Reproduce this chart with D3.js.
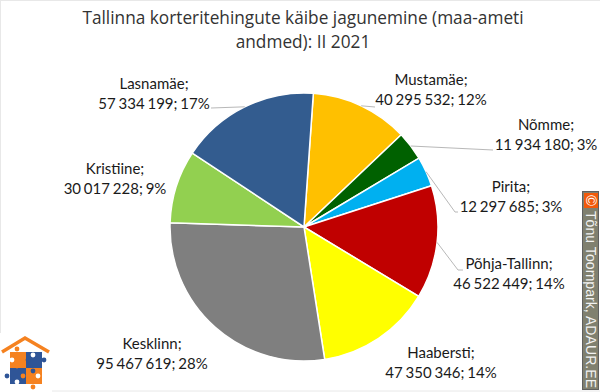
<!DOCTYPE html>
<html>
<head>
<meta charset="utf-8">
<script src="https://cdn.jsdelivr.net/npm/d3@7"></script>
<style>
  html, body { margin: 0; padding: 0; background: #fff; }
  svg { display: block; font-family: Lato, "Open Sans", sans-serif; }
</style>
</head>
<body>
<div id="chart"></div>
<script>
const areas = ["Mustamäe", "Nõmme", "Pirita", "Põhja-Tallinn", "Haabersti", "Kesklinn", "Kristiine", "Lasnamäe"];
const turnover = [40295532, 11934180, 12297685, 46522449, 47350346, 95467619, 30017228, 57334199];
const shares = ["12%", "3%", "3%", "14%", "14%", "28%", "9%", "17%"];
const colors = ["#ffc000", "#006100", "#00b0f0", "#c00000", "#ffff00", "#7f7f7f", "#92d050", "#335c8f"];
const titleLines = ["Tallinna korteritehingute käibe jagunemine (maa-ameti", "andmed): II 2021"];

// label centres, placed by eye
const labelX = [431, 546, 511, 509, 441, 152, 115, 154];
const labelY = [85, 130, 192, 269, 358, 349, 174, 89];
// which labels get a leader line, and the bends it goes through
const leaderEnds = [
  [[375, 107]],
  [[493, 150]],
  [[455, 212], [458, 212]],
  [[458, 270], [463, 270]],
  null, null, null,
  [[211, 108]]
];

const width = 600, height = 392;
const cx = 304, cy = 227, radius = 134;
const startAngle = 4 * Math.PI / 180;

const fmt = d3.formatLocale({ thousands: " ", grouping: [3], decimal: ",", currency: ["", ""] }).format(",d");

const svg = d3.select("#chart").append("svg")
  .attr("width", width)
  .attr("height", height);

// faint edge of the original image
svg.append("rect")
  .attr("x", 0.5).attr("y", 0.5)
  .attr("width", width).attr("height", height - 1.5)
  .attr("fill", "none")
  .attr("stroke", "#e8e8e8");

svg.append("g")
  .attr("text-anchor", "middle")
  .attr("font-family", "'Open Sans', sans-serif")
  .attr("font-size", 17.25)
  .attr("fill", "#333")
  .selectAll("text")
  .data(titleLines)
  .join("text")
  .attr("x", 303)
  .attr("y", (d, i) => 24 + i * 24)
  .text(d => d);

const pie = d3.pie().sort(null).startAngle(startAngle).endAngle(startAngle + 2 * Math.PI);
const arcs = pie(turnover);
const arc = d3.arc().innerRadius(0).outerRadius(radius);

svg.append("g")
  .attr("transform", `translate(${cx},${cy})`)
  .selectAll("path")
  .data(arcs)
  .join("path")
  .attr("d", arc)
  .attr("fill", (d, i) => colors[i])
  .attr("stroke", "#fff")
  .attr("stroke-width", 1.5);

// leader lines start on the rim, in the middle of the slice
svg.append("g")
  .attr("stroke", "#b8b8b8")
  .attr("fill", "none")
  .selectAll("path")
  .data(arcs.filter((d, i) => leaderEnds[i]))
  .join("path")
  .attr("d", d => {
    const mid = (d.startAngle + d.endAngle) / 2;
    const x = cx + radius * Math.sin(mid), y = cy - radius * Math.cos(mid);
    return d3.line()([[x, y], ...leaderEnds[d.index]]);
  });

const labels = svg.append("g")
  .attr("text-anchor", "middle")
  .attr("font-size", 15)
  .attr("word-spacing", -1)
  .attr("fill", "#1a1a1a")
  .selectAll("g")
  .data(areas)
  .join("g")
  .attr("transform", (d, i) => `translate(${labelX[i]},${labelY[i]})`);
labels.append("text").text(d => d + ";");
labels.append("text").attr("y", 20).text((d, i) => `${fmt(turnover[i])}; ${shares[i]}`);

// copyright badge on the right edge
const badge = svg.append("g");
badge.append("rect").attr("x", 582.5).attr("y", 191.5).attr("width", 16).attr("height", 198)
  .attr("fill", "#80806f").attr("stroke", "#5f5f5f");
badge.append("rect").attr("x", 584).attr("y", 193).attr("width", 14).attr("height", 15).attr("fill", "#f25a0a");
badge.append("text").attr("transform", "translate(586,200.5) rotate(90)").attr("text-anchor", "middle")
  .attr("font-family", "'Liberation Sans', sans-serif").attr("font-size", 15).attr("fill", "#fff").text("©");
badge.append("text").attr("transform", "translate(586,211) rotate(90)")
  .attr("font-family", "'Liberation Sans', sans-serif").attr("font-size", 14).attr("fill", "#f2f2f2")
  .attr("textLength", 177).text("Tõnu Toompark, ADAUR.EE");

// puzzle-house logo, bottom left
const orange = "#f58220", blue = "#2f5597";
const logo = svg.append("g").attr("transform", "translate(0,336)");
logo.append("rect").attr("x", 0).attr("y", -3).attr("width", 52).attr("height", 59).attr("fill", "#fff");
logo.append("path").attr("d", "M2 16L25 2L49 16").attr("fill", "none").attr("stroke", orange).attr("stroke-width", 3.5);
logo.append("rect").attr("x", 10).attr("y", 16).attr("width", 16).attr("height", 16).attr("fill", orange);
logo.append("rect").attr("x", 26).attr("y", 16).attr("width", 16).attr("height", 16).attr("fill", blue);
logo.append("rect").attr("x", 10).attr("y", 32).attr("width", 16).attr("height", 16).attr("fill", blue);
logo.append("rect").attr("x", 26).attr("y", 32).attr("width", 16).attr("height", 16).attr("fill", orange);
const knobs = [[17, 13, orange], [33, 19, "#fff"], [12, 24, "#fff"], [28, 24, blue], [44, 24, blue],
  [17, 30, orange], [33, 35, blue], [7, 40, blue], [23, 40, orange], [38, 40, "#fff"], [17, 46, "#fff"], [33, 51, orange]];
logo.selectAll("circle").data(knobs).join("circle")
  .attr("cx", d => d[0]).attr("cy", d => d[1]).attr("r", 2.4).attr("fill", d => d[2]);
</script>
</body>
</html>
